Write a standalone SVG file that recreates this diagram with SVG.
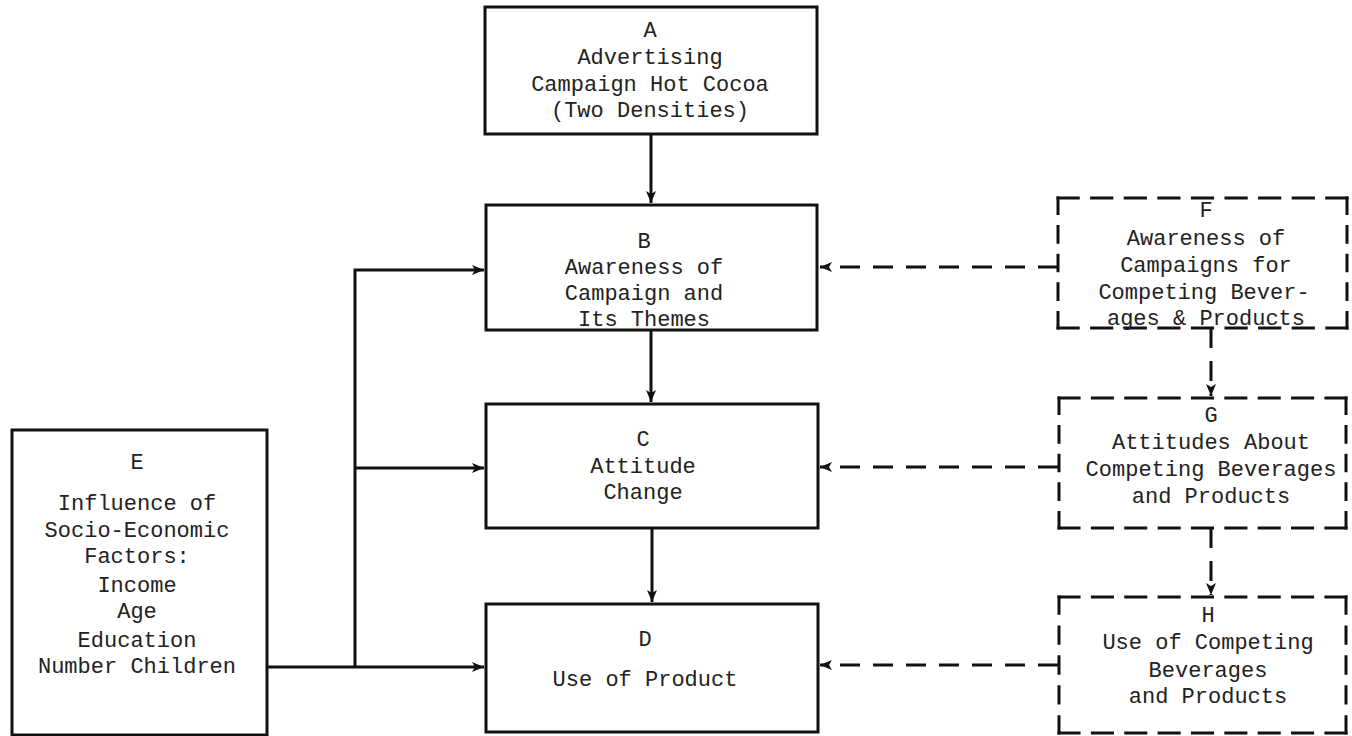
<svg xmlns="http://www.w3.org/2000/svg" width="1352" height="736" viewBox="0 0 1352 736">
<defs>
<marker id="ah" viewBox="0 0 12 10" refX="12" refY="5" markerWidth="12" markerHeight="10" markerUnits="userSpaceOnUse" orient="auto">
<path d="M0,0 L12,5 L0,10 L3,5 Z" fill="#111"/>
</marker>
</defs>
<style>
.box{fill:none;stroke:#111;stroke-width:3}
.dh{fill:none;stroke:#111;stroke-width:3;stroke-linecap:square;stroke-dasharray:7 4.625}
.dv{fill:none;stroke:#111;stroke-width:3;stroke-linecap:square;stroke-dasharray:12 10}
.ln{fill:none;stroke:#111;stroke-width:3}
.dl{fill:none;stroke:#111;stroke-width:3;stroke-dasharray:20 13}
text{font-family:"Liberation Mono","Courier New",monospace;font-size:22px;fill:#222;text-anchor:middle}
</style>
<rect width="1352" height="736" fill="#fff"/>
<g id="connectors">
<path class="ln" d="M651,134 V203" marker-end="url(#ah)"/>
<path class="ln" d="M651,330 V402" marker-end="url(#ah)"/>
<path class="ln" d="M652,528 V602" marker-end="url(#ah)"/>
<path class="ln" d="M267,667 H484" marker-end="url(#ah)"/>
<path class="ln" d="M355,667 V270 H484" marker-end="url(#ah)"/>
<path class="ln" d="M355,468 H484" marker-end="url(#ah)"/>
<path class="dl" d="M1058,267 H820" marker-end="url(#ah)"/>
<path class="dl" d="M1058,467 H820" marker-end="url(#ah)"/>
<path class="dl" d="M1058,665 H820" marker-end="url(#ah)"/>
<path class="dl" d="M1211,328 V396" marker-end="url(#ah)"/>
<path class="dl" d="M1211,528 V595" marker-end="url(#ah)"/>
</g>
<g id="A">
<rect class="box" x="485" y="7" width="332" height="127"/>
<text x="650" y="37">A</text>
<text x="650" y="64">Advertising</text>
<text x="650" y="91">Campaign Hot Cocoa</text>
<text x="650" y="117">(Two Densities)</text>
</g>
<g id="B">
<rect class="box" x="486" y="205" width="331" height="125"/>
<text x="644" y="248">B</text>
<text x="644" y="274">Awareness of</text>
<text x="644" y="300">Campaign and</text>
<text x="644" y="326">Its Themes</text>
</g>
<g id="C">
<rect class="box" x="486" y="404" width="332" height="124"/>
<text x="643" y="446">C</text>
<text x="643" y="473">Attitude</text>
<text x="643" y="499">Change</text>
</g>
<g id="D">
<rect class="box" x="486" y="604" width="332" height="128"/>
<text x="645" y="646">D</text>
<text x="645" y="686">Use of Product</text>
</g>
<g id="E">
<rect class="box" x="12" y="430" width="255" height="305"/>
<text x="137" y="469">E</text>
<text x="137" y="510">Influence of</text>
<text x="137" y="537">Socio-Economic</text>
<text x="137" y="563">Factors:</text>
<text x="137" y="592">Income</text>
<text x="137" y="618">Age</text>
<text x="137" y="647">Education</text>
<text x="137" y="673">Number Children</text>
</g>
<g id="F">
<path class="dh" pathLength="100" d="M1058,198 H1347"/>
<path class="dh" pathLength="100" d="M1058,328 H1347"/>
<path class="dv" pathLength="100" d="M1058,198 V328"/>
<path class="dv" pathLength="100" d="M1347,198 V328"/>
<text x="1206" y="217">F</text>
<text x="1206" y="245">Awareness of</text>
<text x="1206" y="272">Campaigns for</text>
<text x="1204" y="299">Competing Bever-</text>
<text x="1206" y="325">ages &amp; Products</text>
</g>
<g id="G">
<path class="dh" pathLength="100" d="M1059,398 H1346"/>
<path class="dh" pathLength="100" d="M1059,528 H1346"/>
<path class="dv" pathLength="100" d="M1059,398 V528"/>
<path class="dv" pathLength="100" d="M1346,398 V528"/>
<text x="1211" y="422">G</text>
<text x="1211" y="449">Attitudes About</text>
<text x="1211" y="476">Competing Beverages</text>
<text x="1211" y="503">and Products</text>
</g>
<g id="H">
<path class="dh" pathLength="100" d="M1059,597 H1346"/>
<path class="dh" pathLength="100" d="M1059,733 H1346"/>
<path class="dv" pathLength="100" d="M1059,597 V733"/>
<path class="dv" pathLength="100" d="M1346,597 V733"/>
<text x="1208" y="622">H</text>
<text x="1208" y="649">Use of Competing</text>
<text x="1208" y="677">Beverages</text>
<text x="1208" y="703">and Products</text>
</g>
</svg>
